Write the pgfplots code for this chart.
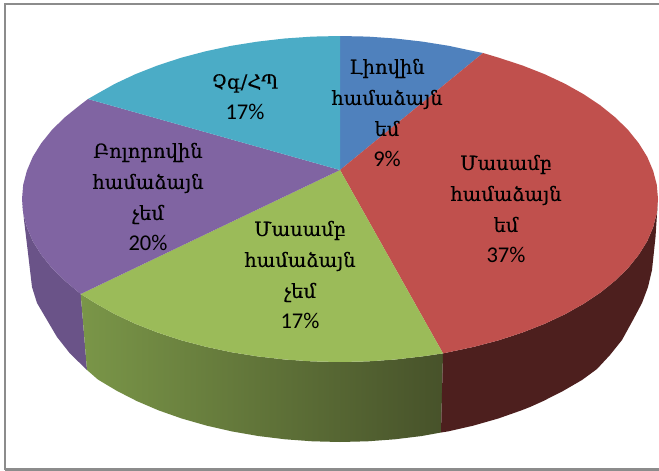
\documentclass[border=0pt]{standalone}
\usepackage{pgfplots}
\pgfplotsset{compat=1.18}
\usepackage{fontspec}
\setmainfont{Carlito}
\newfontfamily\arm[Script=Armenian,FakeBold=0.3]{DejaVu Serif}
\definecolor{cblue}{HTML}{4F81BD}
\definecolor{cred}{HTML}{C0504D}
\definecolor{cgreen}{HTML}{9BBB59}
\definecolor{cpurple}{HTML}{8064A2}
\definecolor{ccyan}{HTML}{4BACC6}
\definecolor{sred}{HTML}{4D1F1E}
\definecolor{sgreenL}{HTML}{7A9648}
\definecolor{sgreenM}{HTML}{64783A}
\definecolor{sgreenR}{HTML}{47522A}
\definecolor{spurple}{HTML}{6A5388}
\definecolor{frame}{HTML}{8C8C8C}
\tikzset{lab/.style={align=center,font=\fontsize{22.5}{31}\selectfont,text=black,inner sep=0pt}}
\newcommand{\A}[1]{{\arm\fontsize{19.5}{31}\selectfont #1}}
\begin{document}
\begin{tikzpicture}
\begin{axis}[
  scale only axis, width=659pt, height=471pt,
  xmin=0, xmax=659, ymin=0, ymax=471, y dir=reverse,
  hide axis, clip=true]
% page background keeps the full picture size
\addplot[draw=none, fill=white] coordinates {(0,0) (659,0) (659,471) (0,471)} -- cycle;
% frame
\addplot[frame, line width=2.3pt] coordinates {(5.2,469.6) (5.2,3.8) (659,3.8)};
\addplot[frame, line width=2.3pt] coordinates {(5.2,469.6) (659,469.6)};
% side: purple
\addplot[draw=none, fill=spurple] coordinates {(80.7,294) (64.6,280.5) (51.8,267.9) (41.2,254.7) (32.8,241.2) (26.9,227.3) (23.2,213.2) (22,199) (24,220) (28,253) (32,287) (37,303) (47,320) (57,337) (70,353.5) (87,370)} -- cycle;
% side: green
\addplot[draw=none, left color=sgreenL, middle color=sgreenM, right color=sgreenR] coordinates {(443,353.4) (422.3,356.4) (395.3,359.5) (367.7,361.4) (340,362) (312.3,361.4) (284.7,359.5) (257.7,356.4) (231.3,352.2) (205.6,346.7) (181,340.2) (157.5,332.5) (135.6,323.9) (115.1,314.3) (96.4,303.8) (80.7,294) (87,370) (97.9,379.5) (116.6,390.7) (136.9,401.1) (158.7,410.4) (182,418.6) (206.5,425.6) (231.9,431.4) (258.2,436) (285.1,439.3) (312.4,441.3) (340,442) (367.6,441.3) (394.9,439.3) (421.8,436) (441,432.5)} -- cycle;
% side: red
\addplot[draw=none, fill=sred] coordinates {(658,199) (656.8,213.2) (653.1,227.3) (647.2,241.2) (638.8,254.7) (628.2,267.9) (615.4,280.5) (600.5,292.5) (583.6,303.8) (564.9,314.3) (544.4,323.9) (522.5,332.5) (499,340.2) (474.4,346.7) (448.7,352.2) (443,353.4) (441,432.5) (448.1,431.4) (473.5,425.6) (498,418.6) (521.3,410.4) (530,407) (543.1,401.1) (563,391) (582,380) (597,369) (610,355) (622,340) (633,320) (642,303) (648,287) (652,270) (655.5,237)} -- cycle;
% top: blue
\addplot[draw=none, fill=cblue] coordinates {(340,170) (340,36) (367.7,36.6) (395.3,38.5) (422.3,41.6) (448.7,45.8) (474.4,51.3) (483,53)} -- cycle;
% top: red
\addplot[draw=none, fill=cred] coordinates {(340,170) (483,53) (499,57.8) (522.5,65.5) (544.4,74.1) (564.9,83.7) (583.6,94.2) (600.5,105.5) (615.4,117.5) (628.2,130.1) (638.8,143.3) (647.2,156.8) (653.1,170.7) (656.8,184.8) (658,199) (656.8,213.2) (653.1,227.3) (647.2,241.2) (638.8,254.7) (628.2,267.9) (615.4,280.5) (600.5,292.5) (583.6,303.8) (564.9,314.3) (544.4,323.9) (522.5,332.5) (499,340.2) (474.4,346.7) (448.7,352.2) (443,353.4)} -- cycle;
% top: green
\addplot[draw=none, fill=cgreen] coordinates {(340,170) (443,353.4) (422.3,356.4) (395.3,359.5) (367.7,361.4) (340,362) (312.3,361.4) (284.7,359.5) (257.7,356.4) (231.3,352.2) (205.6,346.7) (181,340.2) (157.5,332.5) (135.6,323.9) (115.1,314.3) (96.4,303.8) (80.7,294)} -- cycle;
% top: purple
\addplot[draw=none, fill=cpurple] coordinates {(340,170) (80.7,294) (64.6,280.5) (51.8,267.9) (41.2,254.7) (32.8,241.2) (26.9,227.3) (23.2,213.2) (22,199) (23.2,184.8) (26.9,170.7) (32.8,156.8) (41.2,143.3) (51.8,130.1) (64.6,117.5) (79.5,105.5) (88,99)} -- cycle;
% top: cyan
\addplot[draw=none, fill=ccyan] coordinates {(340,170) (88,99) (96.4,94.2) (115.1,83.7) (135.6,74.1) (157.5,65.5) (181,57.8) (205.6,51.3) (231.3,45.8) (257.7,41.6) (284.7,38.5) (312.3,36.6) (340,36)} -- cycle;
\node[lab] at (axis cs:387,113) {\A{Լիովին}\\\A{համաձայն}\\\A{եմ}\\9\%};
\node[lab] at (axis cs:506,209) {\A{Մասամբ}\\\A{համաձայն}\\\A{եմ}\\37\%};
\node[lab] at (axis cs:300,275) {\A{Մասամբ}\\\A{համաձայն}\\\A{չեմ}\\17\%};
\node[lab] at (axis cs:148,197) {\A{Բոլորովին}\\\A{համաձայն}\\\A{չեմ}\\20\%};
\node[lab] at (axis cs:245,97) {\A{Չգ/ՀՊ}\\17\%};
\end{axis}
\end{tikzpicture}
\end{document}
